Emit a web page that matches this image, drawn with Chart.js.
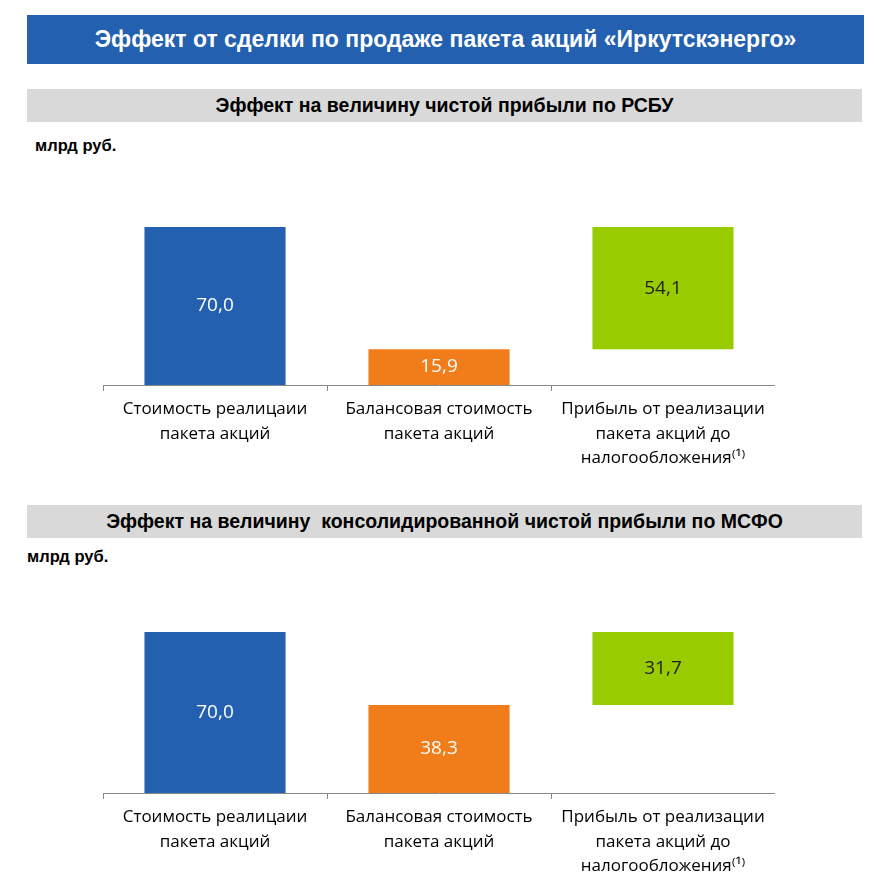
<!DOCTYPE html>
<html><head><meta charset="utf-8">
<script src="https://cdn.jsdelivr.net/npm/chart.js@4/dist/chart.umd.min.js"></script>
<style>
body{margin:0;width:874px;height:896px;background:#fff;position:relative;font-family:"Liberation Sans",Arial,sans-serif;overflow:hidden}
.banner{position:absolute;left:27px;top:15px;width:837px;height:49px;background:#2360b0;color:#fff;font-weight:bold;font-size:23px;display:flex;align-items:center;justify-content:center}
.sub{position:absolute;left:27px;width:835px;height:33px;background:#d9d9d9;color:#000;font-weight:bold;font-size:19.5px;display:flex;align-items:center;justify-content:center}
.unit{position:absolute;font-weight:bold;font-size:16.5px}
.cw{position:absolute;left:103px;width:672px}
</style></head><body>
<div class="banner">Эффект от сделки по продаже пакета акций «Иркутскэнерго»</div>
<div class="sub" style="top:89px">Эффект на величину чистой прибыли по РСБУ</div>
<div class="unit" style="left:35px;top:136px">млрд руб.</div>
<div class="sub" style="top:505px">Эффект на величину&nbsp; консолидированной чистой прибыли по МСФО</div>
<div class="unit" style="left:27px;top:547px">млрд руб.</div>
<div class="cw" style="top:200px;height:285px"><canvas id="c1"></canvas></div>
<div class="cw" style="top:600px;height:293px"><canvas id="c2"></canvas></div>
<script>
const categories=[["Стоимость реалицаии","пакета акций"],["Балансовая стоимость","пакета акций"],["Прибыль от реализации","пакета акций до","налогообложения⁽¹⁾"]];
const rsbuValues=[70.0,15.9,54.1];
const ifrsValues=[70.0,38.3,31.7];
const colors=['#2360b0','#f07c1a','#99cc00'];
const labelColors=['#fff','#fff','#222'];
function floats(v){return [[0,v[0]],[0,v[1]],[v[1],v[1]+v[2]]];}
const valPlugin={id:'vals',afterDatasetsDraw(ch){const ctx=ch.ctx;const meta=ch.getDatasetMeta(0);const vals=ch.options.plugins.vals.values;
ctx.save();ctx.font='19px "Open Sans"';ctx.textAlign='center';ctx.textBaseline='middle';
meta.data.forEach((b,i)=>{ctx.fillStyle=labelColors[i];ctx.fillText(vals[i].toFixed(1).replace('.',','),b.x,(b.y+b.base)/2);});ctx.restore();}};
function make(id,vals,max){
new Chart(document.getElementById(id),{type:'bar',
data:{labels:categories,datasets:[{data:floats(vals),backgroundColor:colors,barPercentage:0.63,categoryPercentage:1}]},
options:{responsive:true,maintainAspectRatio:false,animation:false,layout:{padding:0},
plugins:{legend:{display:false},tooltip:{enabled:false},vals:{values:vals}},
scales:{y:{display:false,min:0,max:max},
x:{afterFit(s){s.height=100;},grid:{offset:true,drawOnChartArea:false,tickLength:6,color:'#888'},border:{color:'#888'},
ticks:{color:'#000',font:{family:'"Open Sans"',size:17,lineHeight:1.45},padding:6,maxRotation:0}}}},
plugins:[valPlugin]});}
make('c1',rsbuValues,82);
make('c2',ifrsValues,83.9);
</script></body></html>
